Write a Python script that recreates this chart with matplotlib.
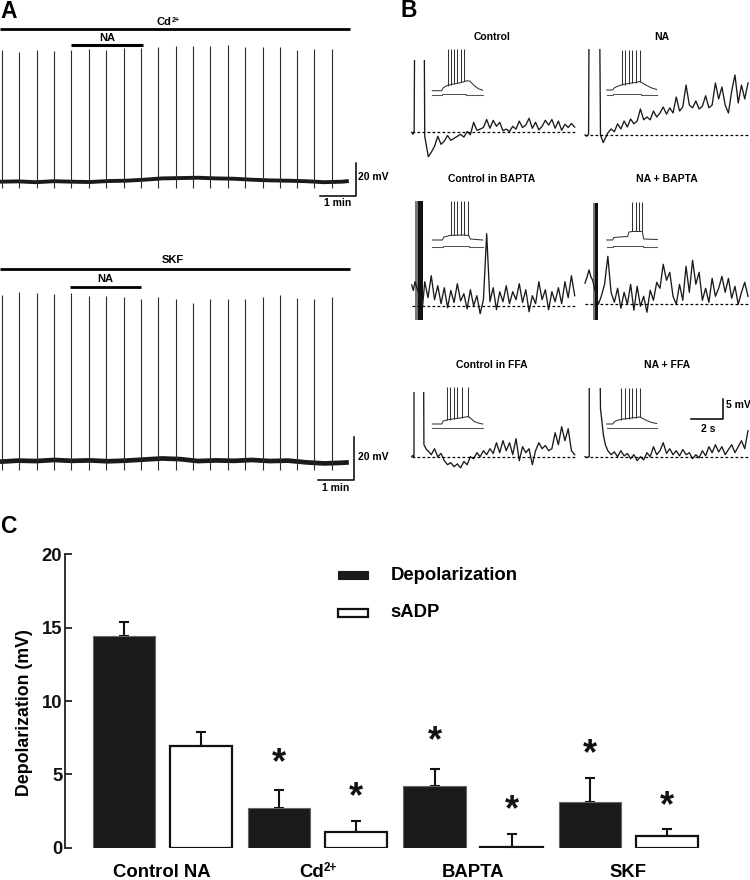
import numpy as np
import matplotlib
matplotlib.use('Agg')
import matplotlib.pyplot as plt
from matplotlib.patches import Rectangle
from matplotlib.textpath import TextPath
from matplotlib.font_manager import FontProperties

plt.rcParams['font.family'] = ['Liberation Sans', 'DejaVu Sans']
plt.rcParams['font.weight'] = 'bold'

# ---------------- data ----------------
# Panel A: spike times (min), spike amplitudes (mV), slow baseline (mV)
A_SPIKE_T = [0.05, 0.54, 1.02, 1.50, 1.97, 2.46, 2.95, 3.44, 3.93, 4.40,
             4.88, 5.36, 5.84, 6.33, 6.81, 7.30, 7.78, 8.26, 8.73, 9.22]
A1_SPIKE_AMP = [79.8, 78.8, 79.8, 79.4, 79.8, 80.4, 79.8, 80.8, 80.8, 81.5,
                82.2, 82.2, 82.2, 82.8, 81.8, 81.5, 81.5, 79.8, 80.2, 80.2]
A2_SPIKE_AMP = [77.5, 78.8, 78.3, 78.0, 78.3, 77.2, 77.2, 76.7, 75.5, 76.7,
                75.5, 73.7, 75.5, 75.5, 75.5, 76.5, 77.5, 76.0, 75.5, 76.5]
A_BASE_T = [0, 0.5, 1, 1.5, 2, 2.5, 3, 3.5, 4, 4.5, 5, 5.5, 6, 6.5, 7, 7.5,
            8, 8.5, 9, 9.5, 9.69]
A1_BASE_V = [0, 0.2, -0.3, 0.3, 0, -0.2, 0.4, 0.6, 1.2, 2.0, 2.2, 2.4, 2.0,
             1.8, 1.2, 0.8, 0.6, 0.3, -0.3, 0, 0.4]
A2_BASE_V = [0, 0.5, 0.3, 0.8, 0.4, 0.6, 0.2, 0.5, 1.0, 1.5, 1.2, 0.3, 0.6,
             0.4, 0.8, 0.3, 0.5, -0.3, -0.8, -0.5, -0.3]

# Panel B: main traces (s, mV rel. to dashed baseline)
B_CTRL_INIT_T = [0, 0.08, 0.15, 0.2, 0.75, 0.8, 1.02]
B_CTRL_INIT_V = [0, -0.5, 0.3, 40, 40, -1.0, -6.1]
B_CTRL_TAIL_T0 = 1.2
B_CTRL_TAIL_V = [-5.0, -3.5, -1.0, -3.0, -2.2, -0.8, -2.0, -1.5, -1.0, -0.5,
                 -1.2, 0.2, -0.6, 2.5, 0.5, 0.8, 1.2, 3.2, 1.0, 3.0,
                 1.5, 2.5, 0.4, 0.8, 0.2, 1.5, 0.8, 2.8, 1.2, 1.8,
                 3.5, 1.0, 2.5, 0.6, 1.5, 3.0, 1.8, 3.2, 1.0, 2.8,
                 0.5, 2.0, 1.2, 2.2, 1.3]

B_NA_INIT_T = [0, 0.1, 0.22, 0.26, 0.88, 0.95, 1.12]
B_NA_INIT_V = [0, -0.3, 0.2, 40, 40, 0.0, -1.9]
B_NA_TAIL_T0 = 1.2
B_NA_TAIL_V = [-1.2, 0.5, 1.5, 0.8, 2.8, 1.5, 3.5, 2.0, 4.0, 2.8,
               3.5, 6.5, 3.8, 4.5, 3.8, 6.0, 4.5, 5.5, 7.0, 5.2,
               6.8, 5.5, 9.5, 6.0, 7.0, 12.5, 7.5, 6.8, 8.5, 6.5,
               7.2, 9.8, 6.8, 7.5, 13.0, 9.0, 12.0, 7.5, 5.5, 11.0,
               15.0, 8.0, 12.5, 9.0, 13.0]

B_CBAPTA_INIT_T = [0, 0.1, 0.2, 0.67]
B_CBAPTA_INIT_V = [5.2, 3.8, 6.0, 0.0]
B_CBAPTA_BLOCK = [0.2, 0.67, -3.6, 26.2]
B_CBAPTA_TAIL_T0 = 0.8
B_CBAPTA_TAIL_V = [6.0, 2.0, 7.5, 1.5, 5.0, 0.5, 4.5, -0.5, 3.8, 0.8,
                   5.5, 1.2, 3.0, -0.8, 4.0, 0.0, 2.5, -2.0, 1.5, 18.0,
                   1.0, 4.5, -1.0, 3.5, 1.0, 5.0, 0.5, 3.5, 1.5, 5.5,
                   0.8, 4.0, -1.5, 2.5, 0.5, 6.0, 1.5, 4.0, -1.0, 3.5,
                   1.0, 4.5, 0.5, 6.0, 2.0, 7.5, 2.5]

B_NABAPTA_INIT_T = [0, 0.1, 0.25, 0.35, 0.47, 0.82]
B_NABAPTA_INIT_V = [5.3, 6.5, 8.6, 7.0, 6.0, 0.0]
B_NABAPTA_BLOCK = [0.47, 0.82, -3.9, 25.4]
B_NABAPTA_TAIL_T0 = 1.0
B_NABAPTA_TAIL_V = [2.0, 5.0, 12.0, 3.0, 0.5, 4.0, -1.0, 3.0, 0.0, 5.0,
                    -1.5, 4.5, -0.5, 2.0, -2.0, 3.5, 1.0, 5.5, 4.0, 10.0,
                    6.0, 8.0, 2.0, 0.0, 5.0, 1.0, 9.5, 3.0, 11.0, 5.0,
                    8.0, 1.0, 4.0, 0.5, 6.5, 2.0, 4.0, 7.0, 3.0, 6.5,
                    1.5, 4.5, 0.0, 3.0, 5.5, 2.0]

B_CFFA_INIT_T = [0, 0.06, 0.14, 0.14, 0.71, 0.75, 0.92]
B_CFFA_INIT_V = [0, 0.3, 0.0, 40, 40, 3.0, 1.7]
B_CFFA_TAIL_T0 = 1.0
B_CFFA_TAIL_V = [1.5, 0.5, 2.0, 0.0, 0.8, -1.0, -2.0, -1.5, -2.5, -1.8,
                 -2.8, -1.2, -2.0, 0.0, -0.5, 1.0, 0.0, 1.5, 0.5, 2.0,
                 0.8, 3.5, 1.0, 4.0, 1.5, 3.5, 0.5, 4.5, -1.0, 2.5,
                 1.0, 2.0, -2.0, 1.5, 3.5, 2.0, 2.8, 1.5, 2.0, 6.0,
                 3.0, 7.5, 4.0, 7.0, 1.5, 0.5]

B_NAFFA_INIT_T = [0, 0.1, 0.26, 0.26, 0.88, 0.95, 1.13, 1.25]
B_NAFFA_INIT_V = [0, -0.2, 0.0, 40, 40, 12.0, 5.4, 3.0]
B_NAFFA_TAIL_T0 = 1.4
B_NAFFA_TAIL_V = [1.5, 0.5, 1.2, 0.0, 1.5, 0.2, 0.8, -0.5, 0.5, -1.0,
                  0.0, -0.8, 1.0, 0.0, 2.5, 0.5, 1.5, 3.5, 0.8, 2.0,
                  0.5, 1.5, 0.2, 1.8, 0.5, 1.0, -0.5, 0.5, -0.3, 1.5,
                  0.2, 2.5, 1.0, 3.0, 1.2, 2.5, 0.5, 1.8, 3.0, 1.0,
                  2.5, 4.0, 2.0, 6.5]

# Panel B insets: (ms, mV)
IN_CTRL_UP_T = [0, 94, 110, 144, 200, 260, 320, 345, 377, 420, 460, 504]
IN_CTRL_UP_V = [0, 0, 6, 10, 13, 15, 18, 20, 19, 10, 4, 1]
IN_CTRL_SP_T = [154, 184, 220, 250, 284, 317]
IN_CTRL_SP_B = [10, 12, 14, 15, 17, 19]
IN_CTRL_PEAK = 83
IN_CTRL_LO_T = [0, 94, 94, 340, 340, 504]
IN_CTRL_LO_V = [-8.6, -8.6, -7.2, -7.2, -8.6, -8.6]

IN_NA_UP_T = [0, 60, 80, 116, 160, 220, 280, 333, 350, 400, 450, 500]
IN_NA_UP_V = [0, 0, 5, 8, 11, 13, 15, 17, 15, 9, 4, 1]
IN_NA_SP_T = [150, 183, 220, 256, 293, 333]
IN_NA_SP_B = [10, 11, 13, 14, 15, 17]
IN_NA_PEAK = 80
IN_NA_LO_T = [0, 66, 66, 340, 340, 500]
IN_NA_LO_V = [-10, -10, -8.6, -8.6, -10, -10]

IN_CBAPTA_UP_T = [0, 100, 115, 145, 170, 300, 365, 380, 504]
IN_CBAPTA_UP_V = [0, 0, 6, 7, 9, 10, 9, 2, 0]
IN_CBAPTA_SP_T = [184, 217, 250, 284, 320, 360]
IN_CBAPTA_SP_B = [9, 10, 10, 10, 10, 9]
IN_CBAPTA_PEAK = 78
IN_CBAPTA_LO_T = [0, 110, 110, 365, 365, 504]
IN_CBAPTA_LO_V = [-14.6, -14.6, -13, -13, -14.6, -14.6]

IN_NABAPTA_UP_T = [0, 60, 70, 130, 210, 222, 260, 356, 370, 506]
IN_NABAPTA_UP_V = [0, 0, 5, 6, 7, 16, 17, 17, 2, 1]
IN_NABAPTA_SP_T = [256, 290, 323, 356]
IN_NABAPTA_SP_B = [17, 17, 17, 17]
IN_NABAPTA_PEAK = 76.6
IN_NABAPTA_LO_T = [0, 66, 66, 365, 365, 506]
IN_NABAPTA_LO_V = [-14.6, -14.6, -13, -13, -14.6, -14.6]

IN_CFFA_UP_T = [0, 94, 110, 144, 200, 280, 330, 360, 380, 420, 460, 504]
IN_CFFA_UP_V = [0, 0, 6, 8, 10, 12, 14, 15, 12, 5, 2, 0]
IN_CFFA_SP_T = [144, 177, 217, 250, 294, 360]
IN_CFFA_SP_B = [8, 9, 11, 12, 13, 15]
IN_CFFA_PEAK = 74.6
IN_CFFA_LO_T = [0, 94, 94, 365, 365, 504]
IN_CFFA_LO_V = [-8.6, -8.6, -7.2, -7.2, -8.6, -8.6]

IN_NAFFA_UP_T = [0, 60, 80, 116, 170, 250, 333, 350, 400, 450, 500]
IN_NAFFA_UP_V = [0, 0, 5, 8, 10, 12, 14, 12, 7, 3, 1]
IN_NAFFA_SP_T = [143, 183, 220, 256, 293, 333]
IN_NAFFA_SP_B = [8, 10, 11, 12, 13, 14]
IN_NAFFA_PEAK = 71.4
IN_NAFFA_LO_T = [0, 66, 66, 340, 340, 500]
IN_NAFFA_LO_V = [-8.6, -8.6, -7.2, -7.2, -8.6, -8.6]

# Panel C: bar chart (label text, superscript)
C_GROUPS = [('Control NA', ''), ('Cd', '2+'), ('BAPTA', ''), ('SKF', '')]
C_DEP = [14.45, 2.70, 4.23, 3.12]
C_DEP_ERR = [0.95, 1.25, 1.13, 1.65]
C_SADP = [6.90, 1.10, 0.05, 0.80]
C_SADP_ERR = [0.97, 0.73, 0.90, 0.45]
C_STAR_DEP = [None, 6.32, 7.76, 6.89]
C_STAR_SADP = [None, 3.98, 3.10, 3.37]
C_SERIES = ['Depolarization', 'sADP']
C_YTICKS = [0, 5, 10, 15, 20]

# ---------------- figure ----------------
W, H = 750, 880
fig = plt.figure(figsize=(W / 100, H / 100), dpi=100)
fig.patch.set_facecolor('white')
INK = '#1a1a1a'
FP = FontProperties(family='Liberation Sans', weight='bold')


def adv_width(s, fs):
    """Approximate advance width of a string in points."""
    return TextPath((0, 0), s, size=fs, prop=FP).get_extents().width + 0.08 * fs


def px_axes(x0, y0, x1, y1):
    ax = fig.add_axes([x0 / W, 1 - y1 / H, (x1 - x0) / W, (y1 - y0) / H])
    ax.set_axis_off()
    return ax


def scaled_axes(x0, y0, x1, y1, ox, oy, sx, sy):
    ax = px_axes(x0, y0, x1, y1)
    ax.set_xlim((x0 - ox) / sx, (x1 - ox) / sx)
    ax.set_ylim((oy - y1) / sy, (oy - y0) / sy)
    return ax


def ptext(x, y, s, **kw):
    fig.text(x / W, 1 - y / H, s, **kw)


def sup_label(ax, xy, base, sup, fs, dy_pt, xycoords='data', **kw):
    """Centered label 'base' + superscript 'sup'; baseline at dy_pt offset."""
    sfs = 0.63 * fs
    wb = adv_width(base, fs)
    ws = adv_width(sup, sfs) if sup else 0.0
    left = -(wb + ws) / 2.0
    ax.annotate(base, xy=xy, xycoords=xycoords, xytext=(left, dy_pt),
                textcoords='offset points', ha='left', va='baseline',
                fontsize=fs, **kw)
    if sup:
        ax.annotate(sup, xy=xy, xycoords=xycoords,
                    xytext=(left + wb, dy_pt + 0.31 * fs),
                    textcoords='offset points', ha='left', va='baseline',
                    fontsize=sfs, **kw)


# ---- panel A ----
ptext(0, 18.3, 'A', fontsize=16.5, va='baseline', ha='left')

axA1 = scaled_axes(0, 0, 375, 215, 0, 181.7, 36, 1.65)
axA1.plot(A_BASE_T, A1_BASE_V, color=INK, lw=2.8, solid_capstyle='butt')
axA1.vlines(A_SPIKE_T, -4, A1_SPIKE_AMP, colors='#2b2b2b', lw=0.8)
axA1.hlines(92.4, 0, 9.72, colors='k', lw=2.0)
axA1.hlines(82.8, 1.97, 3.96, colors='k', lw=2.2)
sup_label(axA1, (4.67, 95.0), 'Cd', '2+', 8, 0)
axA1.text(2.97, 87.1, 'NA', ha='center', va='center', fontsize=8)
axA1.plot([8.89, 9.89, 9.89], [-8.7, -8.7, 11.3], color='k', lw=1.1,
          clip_on=False)
axA1.text(9.95, 2.6, '20 mV', ha='left', va='center', fontsize=7.5)
axA1.text(9.39, -13.2, '1 min', ha='center', va='center', fontsize=7.5)

axA2 = scaled_axes(0, 240, 375, 500, 0, 461.7, 36, 2.15)
axA2.plot(A_BASE_T, A2_BASE_V, color=INK, lw=3.4, solid_capstyle='butt')
axA2.vlines(A_SPIKE_T, -4, A2_SPIKE_AMP, colors='#2b2b2b', lw=0.8)
axA2.hlines(89.8, 0, 9.72, colors='k', lw=2.0)
axA2.hlines(81.3, 1.94, 3.92, colors='k', lw=2.0)
axA2.text(4.8, 93.8, 'SKF', ha='center', va='center', fontsize=8)
axA2.text(2.92, 85.0, 'NA', ha='center', va='center', fontsize=8)
axA2.plot([8.83, 9.83, 9.83], [-8.5, -8.5, 11.5], color='k', lw=1.1,
          clip_on=False)
axA2.text(9.95, 2.3, '20 mV', ha='left', va='center', fontsize=7.5)
axA2.text(9.33, -12.0, '1 min', ha='center', va='center', fontsize=7.5)

# ---- panel B ----
ptext(400, 16.7, 'B', fontsize=16.5, va='baseline', ha='left')
SXB, SYB = 16.3, 4.0


def draw_trace(ax, init_t, init_v, t0, tail_v, dash_end):
    t = list(init_t) + list(t0 + 0.2 * np.arange(len(tail_v)))
    v = list(init_v) + list(tail_v)
    ax.plot(t, v, color=INK, lw=0.95)
    ax.hlines(0, 0, dash_end, colors='k', linestyles=(0, (2.2, 1.8)), lw=0.9)


def draw_block(ax, block):
    t0, t1, v0, v1 = block
    ax.fill_between([t0, t0 + (t1 - t0) * 0.35], v0, v1, color='#777777',
                    lw=0)
    ax.fill_between([t0 + (t1 - t0) * 0.35, t1], v0, v1, color='#111111',
                    lw=0)


def draw_inset(box, origin, up_t, up_v, sp_t, sp_b, peak, lo_t, lo_v):
    ax = scaled_axes(*box, *origin, 0.1, 0.5)
    ax.plot(up_t, up_v, color='#333333', lw=0.75)
    ax.vlines(sp_t, sp_b, peak, colors='#333333', lw=0.75)
    ax.plot(lo_t, lo_v, color='#555555', lw=0.75)


# row 1
ax = scaled_axes(405, 60, 578, 165, 411.7, 132.3, SXB, SYB)
draw_trace(ax, B_CTRL_INIT_T, B_CTRL_INIT_V, B_CTRL_TAIL_T0, B_CTRL_TAIL_V,
           10.0)
ax = scaled_axes(580, 49.3, 750, 165, 585, 135, SXB, SYB)
draw_trace(ax, B_NA_INIT_T, B_NA_INIT_V, B_NA_TAIL_T0, B_NA_TAIL_V, 10.1)
draw_inset((430, 40, 488, 102), (432.3, 90.7), IN_CTRL_UP_T, IN_CTRL_UP_V,
           IN_CTRL_SP_T, IN_CTRL_SP_B, IN_CTRL_PEAK, IN_CTRL_LO_T,
           IN_CTRL_LO_V)
draw_inset((604, 40, 662, 102), (606.7, 90), IN_NA_UP_T, IN_NA_UP_V,
           IN_NA_SP_T, IN_NA_SP_B, IN_NA_PEAK, IN_NA_LO_T, IN_NA_LO_V)

# row 2
ax = scaled_axes(405, 195, 578, 322, 411.7, 305.7, SXB, SYB)
draw_trace(ax, B_CBAPTA_INIT_T, B_CBAPTA_INIT_V, B_CBAPTA_TAIL_T0,
           B_CBAPTA_TAIL_V, 10.0)
draw_block(ax, B_CBAPTA_BLOCK)
ax = scaled_axes(580, 195, 750, 322, 585, 304.3, SXB, SYB)
draw_trace(ax, B_NABAPTA_INIT_T, B_NABAPTA_INIT_V, B_NABAPTA_TAIL_T0,
           B_NABAPTA_TAIL_V, 10.1)
draw_block(ax, B_NABAPTA_BLOCK)
draw_inset((430, 190, 488, 255), (432.3, 240), IN_CBAPTA_UP_T,
           IN_CBAPTA_UP_V, IN_CBAPTA_SP_T, IN_CBAPTA_SP_B, IN_CBAPTA_PEAK,
           IN_CBAPTA_LO_T, IN_CBAPTA_LO_V)
draw_inset((604, 190, 662, 255), (606.7, 240), IN_NABAPTA_UP_T,
           IN_NABAPTA_UP_V, IN_NABAPTA_SP_T, IN_NABAPTA_SP_B,
           IN_NABAPTA_PEAK, IN_NABAPTA_LO_T, IN_NABAPTA_LO_V)

# row 3
ax = scaled_axes(405, 391.7, 578, 480, 411.7, 456.7, SXB, SYB)
draw_trace(ax, B_CFFA_INIT_T, B_CFFA_INIT_V, B_CFFA_TAIL_T0, B_CFFA_TAIL_V,
           10.0)
axR3 = scaled_axes(580, 388.3, 750, 480, 585, 456.7, SXB, SYB)
draw_trace(axR3, B_NAFFA_INIT_T, B_NAFFA_INIT_V, B_NAFFA_TAIL_T0,
           B_NAFFA_TAIL_V, 10.0)
draw_inset((430, 380, 488, 435), (432.3, 424), IN_CFFA_UP_T, IN_CFFA_UP_V,
           IN_CFFA_SP_T, IN_CFFA_SP_B, IN_CFFA_PEAK, IN_CFFA_LO_T,
           IN_CFFA_LO_V)
draw_inset((604, 380, 662, 435), (606.7, 424), IN_NAFFA_UP_T, IN_NAFFA_UP_V,
           IN_NAFFA_SP_T, IN_NAFFA_SP_B, IN_NAFFA_PEAK, IN_NAFFA_LO_T,
           IN_NAFFA_LO_V)
# scale bar 2 s / 5 mV
axR3.plot([6.485, 8.485, 8.485], [9.35, 9.35, 14.35], color='k', lw=1.1,
          clip_on=False)
axR3.text(8.63, 12.9, '5 mV', ha='left', va='center', fontsize=7.5)
axR3.text(7.55, 6.9, '2 s', ha='center', va='center', fontsize=7.5)

# titles
for (x, y, s) in [(491.7, 37, 'Control'), (661.7, 37, 'NA'),
                  (491.7, 179.3, 'Control in BAPTA'),
                  (666.7, 179.3, 'NA + BAPTA'),
                  (491.7, 365, 'Control in FFA'), (666.7, 365, 'NA + FFA')]:
    ptext(x, y, s, fontsize=7.5, ha='center', va='center')

# ---- panel C ----
ptext(0, 533, 'C', fontsize=16.5, va='baseline', ha='left')
axC = fig.add_axes([65 / W, 1 - 847.7 / H, (720 - 65) / W,
                    (847.7 - 554.3) / H])
x = np.arange(len(C_GROUPS))
BW, OFF = 0.402, 0.2477
axC.bar(x - OFF, C_DEP, BW, color='#1a1a1a', edgecolor='#666666', lw=0.8,
        zorder=2)
axC.bar(x + OFF, C_SADP, BW, color='white', edgecolor='#111111', lw=1.6,
        zorder=2)
zeros = np.zeros(len(x))
axC.errorbar(x - OFF, C_DEP, yerr=[zeros, C_DEP_ERR], fmt='none',
             ecolor='#111111', elinewidth=1.5, capsize=3.6, capthick=1.5,
             zorder=1)
axC.errorbar(x + OFF, C_SADP, yerr=[zeros, C_SADP_ERR], fmt='none',
             ecolor='#111111', elinewidth=1.5, capsize=3.6, capthick=1.5,
             zorder=1)
STAR_FS = 26
for xi, sd, ss in zip(x, C_STAR_DEP, C_STAR_SADP):
    for xx, yy in ((xi - OFF, sd), (xi + OFF, ss)):
        if yy is None:
            continue
        axC.annotate('*', xy=(xx, yy), xytext=(0, -0.49 * STAR_FS),
                     textcoords='offset points', ha='center', va='baseline',
                     fontsize=STAR_FS, color='#111111')

axC.set_xlim((65 - 162.35) / 155.4, (720 - 162.35) / 155.4)
axC.set_ylim(0, 20)
axC.set_yticks(C_YTICKS)
axC.set_xticks([])
for sp in ('top', 'right', 'bottom'):
    axC.spines[sp].set_visible(False)
axC.spines['left'].set_linewidth(1.3)
axC.spines['left'].set_color('#222222')
axC.tick_params(axis='y', direction='in', length=5, width=1.2, pad=2,
                labelsize=13.3, colors='#111111')
for lab in axC.get_yticklabels():
    lab.set_fontweight('bold')
for xi, (base, sup) in zip(x, C_GROUPS):
    sup_label(axC, (xi, 0), base, sup, 13.3, -21.1,
              xycoords=('data', 'axes fraction'))

# legend
axC.add_patch(Rectangle((1.131, 18.30), 0.193, 0.59, facecolor='#1a1a1a',
                        edgecolor='#1a1a1a', lw=0.8))
axC.add_patch(Rectangle((1.131, 15.75), 0.193, 0.55, facecolor='white',
                        edgecolor='#111111', lw=1.6))
axC.text(1.469, 18.28, C_SERIES[0], ha='left', va='baseline', fontsize=13.3)
axC.text(1.469, 15.75, C_SERIES[1], ha='left', va='baseline', fontsize=13.3)

ptext(25, 713, 'Depolarization (mV)', rotation=90, ha='center', va='center',
      fontsize=12.8)

fig.savefig('out.png', dpi=100, facecolor='white')
